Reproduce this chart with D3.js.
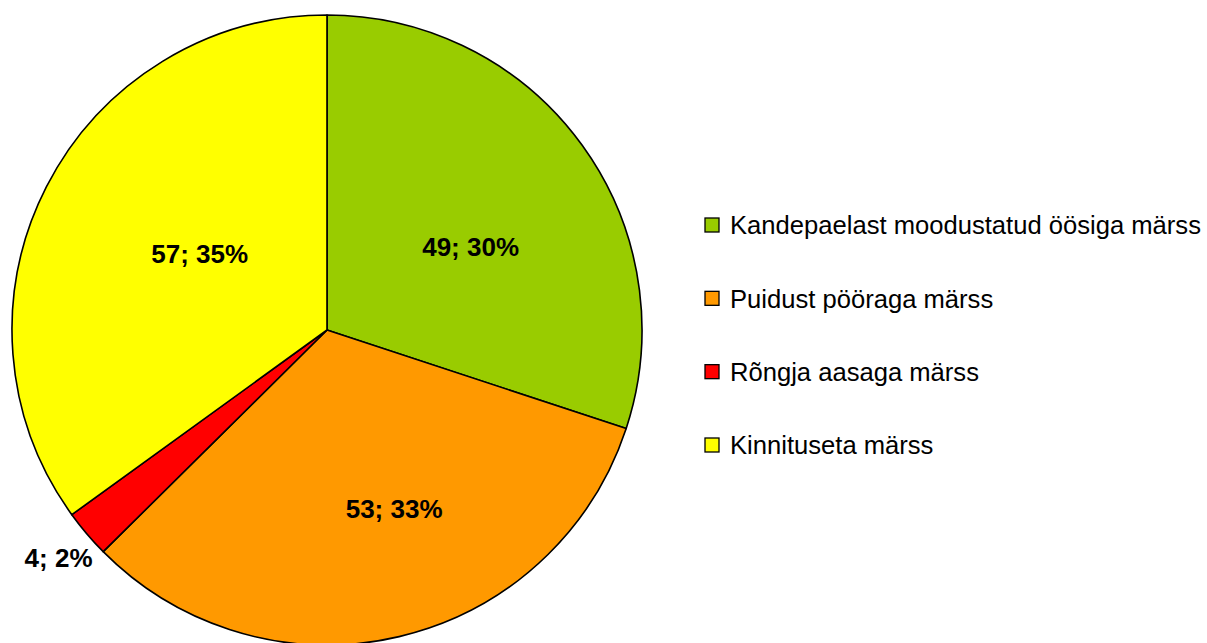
<!DOCTYPE html>
<html>
<head>
<meta charset="utf-8">
<script src="https://cdn.jsdelivr.net/npm/d3@7"></script>
<style>
  body { margin: 0; background: #fff; }
  svg { display: block; font-family: "Liberation Sans", Arial, sans-serif; }
</style>
</head>
<body>
<div id="chart-area"></div>
<script>
// data
var categories = [
    "Kandepaelast moodustatud öösiga märss",
    "Puidust pööraga märss",
    "Rõngja aasaga märss",
    "Kinnituseta märss"
];
var counts = [49, 53, 4, 57];
var percents = [30, 33, 2, 35];
var colours = ["#99CC00", "#FF9900", "#FF0000", "#FFFF00"];

var width = 1207;
var height = 643;
var cx = 327, cy = 330, radius = 315;

// label placement tweaks (inside labels nudged like the original, small slice goes outside)
var labelNudge = [[16, 9], [31, 25], [0, 0], [13, -5]];
var outsideLimit = 5; // percent

var svg = d3.select("#chart-area").append("svg")
    .attr("width", width)
    .attr("height", height);

var g = svg.append("g")
    .attr("transform", "translate(" + cx + ", " + cy + ")");

var data = categories.map((c, i) => {
    return { name: c, count: counts[i], pct: percents[i], colour: colours[i], i: i };
});

var pie = d3.pie()
    .sort(null)
    .value((d) => { return d.count; });

var arc = d3.arc()
    .innerRadius(0)
    .outerRadius(radius);

var labelArc = d3.arc()
    .innerRadius(radius * 0.5)
    .outerRadius(radius * 0.5);

var outerArc = d3.arc()
    .innerRadius(radius + 37)
    .outerRadius(radius + 37);

var arcs = pie(data);

g.selectAll("path.slice")
    .data(arcs)
    .enter()
    .append("path")
    .attr("class", "slice")
    .attr("d", arc)
    .attr("fill", (d) => { return d.data.colour; })
    .attr("stroke", "#000")
    .attr("stroke-width", 1.6)
    .attr("stroke-linejoin", "round");

g.selectAll("text.value")
    .data(arcs)
    .enter()
    .append("text")
    .attr("class", "value")
    .attr("transform", (d) => {
        var p;
        if (d.data.pct < outsideLimit) {
            p = outerArc.centroid(d);
        } else {
            p = labelArc.centroid(d);
            p = [p[0] + labelNudge[d.data.i][0], p[1] + labelNudge[d.data.i][1]];
        }
        return "translate(" + p[0] + ", " + p[1] + ")";
    })
    .attr("dy", "0.36em")
    .attr("text-anchor", "middle")
    .attr("font-size", "26px")
    .attr("font-weight", "bold")
    .style("fill", "black")
    .text((d) => { return d.data.count + "; " + d.data.pct + "%"; });

// legend
var legendY = d3.scalePoint()
    .domain(categories)
    .range([225, 445]);

var legend = svg.append("g")
    .attr("class", "legend");

var rows = legend.selectAll("g.row")
    .data(data)
    .enter()
    .append("g")
    .attr("class", "row")
    .attr("transform", (d) => { return "translate(705, " + legendY(d.name) + ")"; });

rows.append("rect")
    .attr("x", 0)
    .attr("y", -7)
    .attr("width", 14)
    .attr("height", 14)
    .attr("fill", (d) => { return d.colour; })
    .attr("stroke", "#000")
    .attr("stroke-width", 1.3);

rows.append("text")
    .attr("x", 25)
    .attr("dy", "0.36em")
    .attr("font-size", "25.6px")
    .style("fill", "black")
    .text((d) => { return d.name; });
</script>
</body>
</html>
